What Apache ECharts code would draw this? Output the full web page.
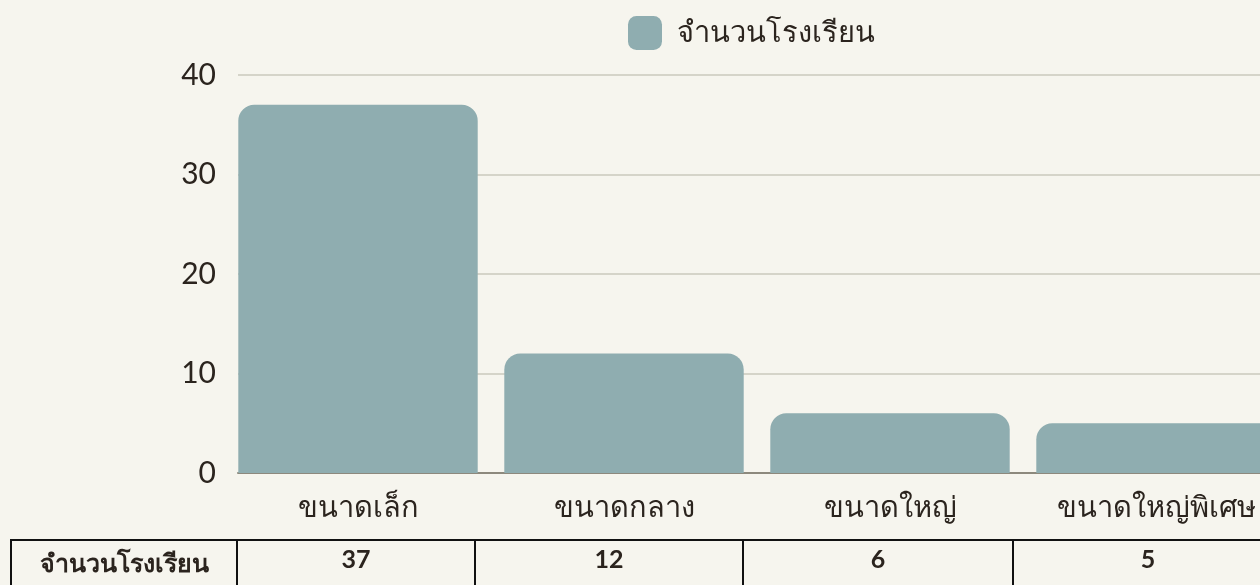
<!DOCTYPE html>
<html>
<head>
<meta charset="utf-8">
<script src="https://cdn.jsdelivr.net/npm/echarts@6/dist/echarts.min.js"></script>
<style>
	html, body { margin: 0; padding: 0; background: #f6f5ee; overflow: hidden; width: 1260px; height: 585px; }
	#chart { position: absolute; left: 0; top: 0; width: 1340px; height: 585px; }
	#table { position: absolute; left: 10px; top: 539px; border-collapse: collapse; table-layout: fixed; font-family: Lato, "Noto Sans", sans-serif; font-weight: bold; font-size: 25px; color: #2b241e; }
	#table td { border: 2px solid #111; height: 60px; vertical-align: top; text-align: center; padding: 2px 0 0 0; box-sizing: border-box; }
</style>
</head>
<body>
<div id="chart"></div>
<table id="table"><colgroup id="cols"></colgroup><tr id="row"></tr></table>
<script>
// ข้อมูล
const categories = ["ขนาดเล็ก", "ขนาดกลาง", "ขนาดใหญ่", "ขนาดใหญ่พิเศษ"];
const schoolCounts = [37, 12, 6, 5];
const seriesName = "จำนวนโรงเรียน";
const yTicks = [0, 10, 20, 30, 40];

const textColor = "#2b241e";
const barColor = "#8fadb0";
const fontFamily = "Lato, 'Noto Sans', sans-serif";

const myChart = echarts.init(document.getElementById("chart"));
const option = {
	backgroundColor: "#f6f5ee",
	animation: false,
	legend: {
		left: 628,
		top: 16,
		padding: 0,
		itemWidth: 34,
		itemHeight: 34,
		itemGap: 16,
		itemStyle: { borderRadius: 2 },
		textStyle: { fontSize: 29, fontWeight: 500, color: textColor, fontFamily: fontFamily, padding: [10, 0, 0, 10] },
		data: [seriesName]
	},
	grid: [
		// เส้นกริดและแกน
		{ left: 238, top: 75, width: 1064, height: 398 },
		// แท่ง
		{ left: 225, top: 75, width: 1064, height: 398 }
	],
	xAxis: [
		{
			gridIndex: 0,
			type: "category",
			data: categories,
			axisLine: { lineStyle: { color: "#8d897d", width: 2 } },
			axisTick: { show: false },
			axisLabel: { show: false }
		},
		{
			gridIndex: 1,
			type: "category",
			data: categories,
			axisLine: { show: false },
			axisTick: { show: false },
			axisLabel: { margin: 20, fontSize: 29, color: textColor, fontFamily: fontFamily }
		}
	],
	yAxis: [
		{
			gridIndex: 0,
			type: "value",
			min: yTicks[0],
			max: yTicks[yTicks.length - 1],
			interval: 10,
			axisLine: { show: false },
			axisTick: { show: false },
			splitLine: { lineStyle: { color: "#cac8bd", width: 1.5 } },
			axisLabel: { margin: 22, fontSize: 30, color: textColor, fontFamily: fontFamily }
		},
		{
			gridIndex: 1,
			type: "value",
			min: yTicks[0],
			max: yTicks[yTicks.length - 1],
			interval: 10,
			show: false
		}
	],
	series: [
		{
			name: seriesName,
			type: "bar",
			xAxisIndex: 1,
			yAxisIndex: 1,
			barWidth: "90%",
			itemStyle: { color: barColor, borderRadius: [16, 16, 0, 0] },
			data: schoolCounts
		}
	]
};
myChart.setOption(option);

// ตารางข้อมูลด้านล่าง
const colWidths = [226, 238, 268, 270, 270];
const row = document.getElementById("row");
const cols = document.getElementById("cols");
const cells = [seriesName].concat(schoolCounts.map(String));
let total = 0;
cells.forEach((text, i) => {
	const col = document.createElement("col");
	col.style.width = colWidths[i] + "px";
	cols.appendChild(col);
	total += colWidths[i];
	const td = document.createElement("td");
	td.textContent = text;
	row.appendChild(td);
});
document.getElementById("table").style.width = total + "px";
</script>
</body>
</html>
